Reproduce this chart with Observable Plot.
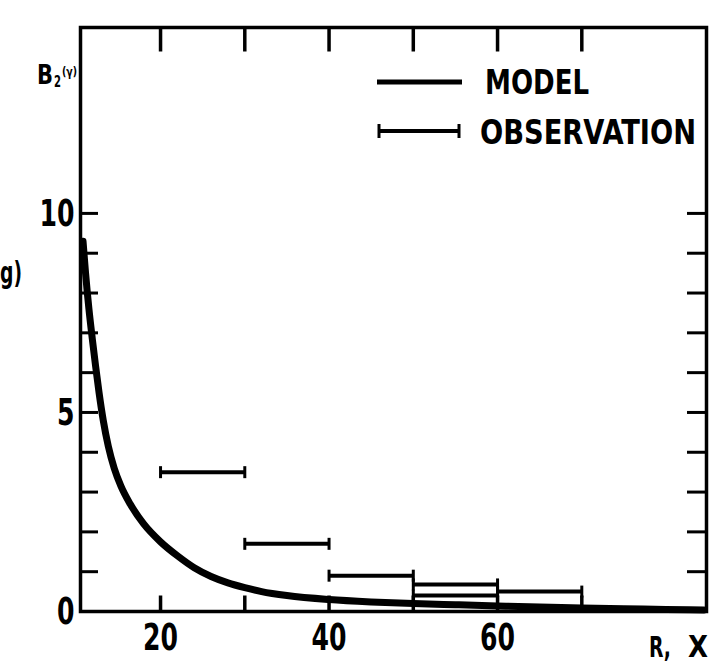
<!DOCTYPE html>
<html><head><meta charset="utf-8">
<script src="https://cdn.jsdelivr.net/npm/d3@7"></script>
<script src="https://cdn.jsdelivr.net/npm/@observablehq/plot@0.6"></script>
<style>
body{margin:0;background:#fff;}
#wrap{position:relative;width:714px;height:664px;overflow:hidden;}
</style></head><body>
<div id="wrap"></div>
<script>
// ---- data ----
const modelX = [10.8, 11.1, 11.5, 11.9, 12.3, 12.7, 13.2, 13.8, 14.5, 15.3, 16.4, 18, 20, 22, 24, 26, 28, 30, 32, 35, 40, 45, 50, 55, 60, 65, 70, 75, 80, 84.5];
const modelY = [9.3, 8.5, 7.6, 6.85, 6.15, 5.5, 4.8, 4.15, 3.6, 3.15, 2.7, 2.2, 1.75, 1.4, 1.1, 0.88, 0.72, 0.6, 0.5, 0.4, 0.3, 0.24, 0.2, 0.17, 0.14, 0.11, 0.09, 0.07, 0.05, 0.04];

const obsX1 = [20, 30, 40, 50, 50, 60];
const obsX2 = [30, 40, 50, 60, 60, 70];
const obsV  = [3.5, 1.7, 0.9, 0.68, 0.4, 0.5];

const xDomain = [10.5, 84.8];
const yDomain = [0, 14.67];
const edgeTicksX = [20, 30, 40, 50, 60, 70];
const xLabelTicks = [20, 40, 60];
const yMinorTicks = [1, 2, 3, 4, 5, 6, 7, 8, 9, 10];
const yLabelTicks = [0, 5, 10];
const legendLabels = ["MODEL", "OBSERVATION"];

// ---- build tables ----
const model = modelX.map((x, i) => ({x, y: modelY[i]}));
const obs = obsX1.map((x1, i) => ({x1, x2: obsX2[i], v: obsV[i]}));
const caps = obs.flatMap(d => [{x: d.x1, v: d.v}, {x: d.x2, v: d.v}]);
const topTicks = edgeTicksX.map(x => ({x, y: yDomain[1]}));
const botTicks = edgeTicksX.map(x => ({x, y: yDomain[0]}));

const FONT = '"DejaVu Sans Condensed", "DejaVu Sans", "Liberation Sans", sans-serif';
const vbar = {draw(ctx, size) { const h = Math.sqrt(size / Math.PI); ctx.moveTo(0, -h); ctx.lineTo(0, h); }};
const noLabel = () => "";
const W = 714, H = 664;
const M = {top: 27, right: 8, bottom: 53, left: 80};

const chart = Plot.plot({
  width: W, height: H,
  marginLeft: M.left, marginRight: M.right, marginTop: M.top, marginBottom: M.bottom,
  x: {domain: xDomain},
  y: {domain: yDomain},
  style: {fontFamily: FONT, fontWeight: "bold", fontStretch: "condensed", color: "black", background: "white"},
  marks: [
    // inward y ticks
    Plot.axisY(yMinorTicks, {anchor: "left", tickSize: 18, dx: 18, strokeWidth: 3, tickFormat: noLabel, label: null}),
    Plot.axisY(yMinorTicks, {anchor: "right", tickSize: 20, dx: -20, strokeWidth: 3, tickFormat: noLabel, label: null}),
    // inward x ticks: short vertical strokes centred half a tick inside each edge
    Plot.dot(topTicks, {x: "x", y: "y", dy: 12, symbol: vbar, r: 12, stroke: "black", strokeWidth: 3.5, fill: "none"}),
    Plot.dot(botTicks, {x: "x", y: "y", dy: -8, symbol: vbar, r: 8, stroke: "black", strokeWidth: 3.5, fill: "none"}),
    // tick labels
    Plot.axisY(yLabelTicks, {anchor: "left", tickSize: 0, tickPadding: 6, fontSize: 38, fontWeight: "bold", label: null}),
    Plot.axisX(xLabelTicks, {anchor: "bottom", tickSize: 0, tickPadding: 12, fontSize: 38, fontWeight: "bold", label: null}),
    Plot.frame({stroke: "black", strokeWidth: 3.5}),
    Plot.line(model, {x: "x", y: "y", stroke: "black", strokeWidth: 7, curve: "monotone-x"}),
    Plot.ruleY(obs, {y: "v", x1: "x1", x2: "x2", stroke: "black", strokeWidth: 4}),
    Plot.dot(caps, {x: "x", y: "v", symbol: vbar, r: 6, stroke: "black", strokeWidth: 3, fill: "none"})
  ]
});
document.getElementById("wrap").appendChild(chart);

const svg = d3.select(chart);
// narrow the tick labels to the condensed look of the original
svg.selectAll("g[aria-label$='tick label'] text").each(function() {
  const t = d3.select(this).text();
  if (t) d3.select(this).attr("textLength", t.length * 17.5).attr("lengthAdjust", "spacingAndGlyphs");
});

// ---- legend and annotations ----
const g = svg.append("g").attr("font-family", FONT).attr("font-weight", "bold").attr("fill", "black").attr("text-anchor", "start");
function label(x, y, size, txt, len) {
  const t = g.append("text").attr("x", x).attr("y", y).attr("font-size", size).text(txt);
  if (len) t.attr("textLength", len).attr("lengthAdjust", "spacingAndGlyphs");
  return t;
}
// model entry
g.append("line").attr("x1", 377).attr("x2", 462).attr("y1", 82).attr("y2", 82).attr("stroke", "black").attr("stroke-width", 5);
label(485, 94, 33, legendLabels[0], 104);
// observation entry
g.append("line").attr("x1", 378).attr("x2", 460).attr("y1", 131).attr("y2", 131).attr("stroke", "black").attr("stroke-width", 4);
g.append("line").attr("x1", 379).attr("x2", 379).attr("y1", 124).attr("y2", 138).attr("stroke", "black").attr("stroke-width", 3);
g.append("line").attr("x1", 459).attr("x2", 459).attr("y1", 124).attr("y2", 138).attr("stroke", "black").attr("stroke-width", 3);
label(480, 144, 33, legendLabels[1], 216);
// y-axis name fragment: base letter and its small subscript/parenthesis as separate texts
label(37, 84, 26, "B", 16);
label(54, 87, 15, "2", 7);
label(62, 76, 13, "(γ)", 15);
// x-axis name
label(649, 657, 28, "R,", 22);
label(688, 657, 30, "X", 20);
// fragment of the vertical-axis title
label(0, 283, 30, "g)", 22);
</script>
</body></html>
